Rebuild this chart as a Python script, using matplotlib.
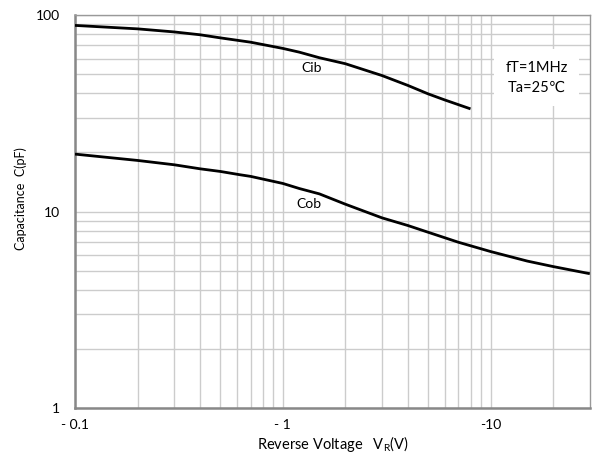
import matplotlib.pyplot as plt
from matplotlib.ticker import FixedLocator, NullFormatter

plt.rcParams['font.family'] = ['Lato', 'DejaVu Sans']

# capacitance vs reverse voltage
vr_cib = [0.1, 0.2, 0.3, 0.4, 0.5, 0.7, 1, 1.2, 1.5, 2, 3, 4, 5, 6, 8]
cib = [88.5, 85.0, 82.0, 79.3, 76.5, 72.7, 67.6, 64.7, 60.6, 56.5, 49.2, 43.8, 39.7, 37.0, 33.3]

vr_cob = [0.1, 0.2, 0.3, 0.4, 0.5, 0.62, 0.7, 1, 1.2, 1.5, 2, 3, 4, 5, 7, 10, 15, 20, 30]
cob = [19.6, 18.2, 17.3, 16.5, 16.0, 15.4, 15.1, 13.9, 13.1, 12.3, 10.9, 9.29, 8.49, 7.85,
       6.98, 6.26, 5.6, 5.25, 4.83]

x_ticks = [0.1, 1, 10]
x_ticklabels = ["- 0.1", "- 1", "-10"]
y_ticks = [1, 10, 100]
y_ticklabels = ["1", "10", "100"]

fig = plt.figure(figsize=(6.0, 4.54), dpi=100)
ax = fig.add_axes([0.125, 0.101, 0.858, 0.866])

ax.plot(vr_cib, cib, color='black', lw=2.0, solid_capstyle='butt', zorder=3)
ax.plot(vr_cob, cob, color='black', lw=2.0, solid_capstyle='butt', zorder=3)

ax.set_xscale('log')
ax.set_yscale('log')
ax.set_xlim(0.1, 30)
ax.set_ylim(1, 100)

ax.set_xticks(x_ticks)
ax.set_xticklabels(x_ticklabels)
ax.set_yticks(y_ticks)
ax.set_yticklabels(y_ticklabels)
minor_x = [m * d for d in (0.1, 1, 10) for m in range(2, 10) if m * d < 30]
minor_y = [m * d for d in (1, 10) for m in range(2, 10)]
ax.xaxis.set_minor_locator(FixedLocator(minor_x))
ax.yaxis.set_minor_locator(FixedLocator(minor_y))
ax.xaxis.set_minor_formatter(NullFormatter())
ax.yaxis.set_minor_formatter(NullFormatter())

ax.grid(True, which='both', color='#cccccc', lw=1.0)
ax.set_axisbelow(True)
ax.tick_params(which='both', length=0, labelsize=10)
ax.tick_params(axis='x', pad=8)
ax.tick_params(axis='y', pad=11)

for side in ('top', 'right'):
    ax.spines[side].set_color('#999999')
    ax.spines[side].set_linewidth(1.0)
for side in ('left', 'bottom'):
    ax.spines[side].set_color('#888888')
    ax.spines[side].set_linewidth(1.8)

fig.text(0.555, 0.022, "Reverse Voltage   V$_\\mathregular{R}$(V)", fontsize=10.5,
         ha='center', va='center')
fig.text(0.034, 0.562, "Capacitance  C(pF)", fontsize=9, rotation=90,
         ha='center', va='center')

ax.text(1.38, 53.5, "Cib", fontsize=10, ha='center', va='center')
ax.text(1.33, 10.9, "Cob", fontsize=10, ha='center', va='center')

# condition box with white background over the grid
ax.text(16.6, 48, "fT=1MHz\nTa=25℃", fontsize=10.5, ha='center', va='center',
        linespacing=1.5, zorder=4,
        bbox=dict(facecolor='white', edgecolor='none', boxstyle='square,pad=0.8'))

fig.savefig("out.png", dpi=100)
